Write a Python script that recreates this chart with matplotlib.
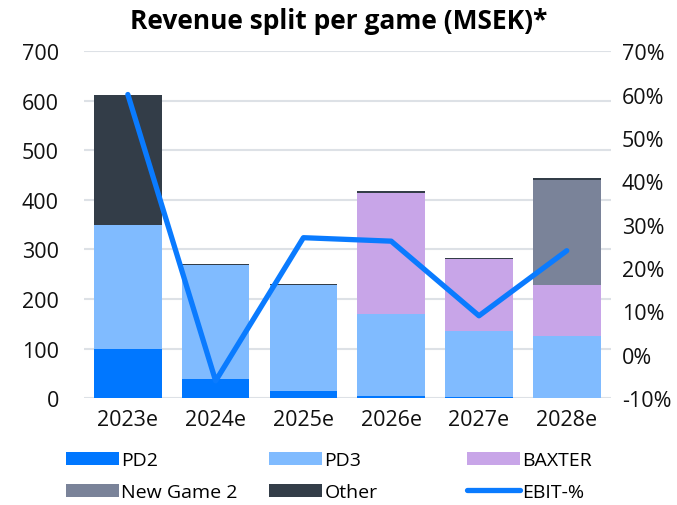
import matplotlib
matplotlib.use("Agg")
import matplotlib.pyplot as plt
import numpy as np

categories = ["2023e", "2024e", "2025e", "2026e", "2027e", "2028e"]
pd2 = [99, 38, 15, 4, 2, 0]
pd3 = [250, 230, 213, 166, 134, 125]
baxter = [0, 0, 0, 244, 144, 104]
new_game2 = [0, 0, 0, 0, 0, 212]
other = [263, 3, 3, 4, 3, 3]
ebit = [60, -6, 27, 26.2, 9, 24]

colors = {"PD2": "#0077FF", "PD3": "#80BBFF", "BAXTER": "#C8A5E8",
          "New Game 2": "#7A8399", "Other": "#333D48"}
line_color = "#0A7BFF"

plt.rcParams['font.family'] = ['Open Sans', 'DejaVu Sans']

fig = plt.figure(figsize=(6.77, 5.06), dpi=100)
ax = fig.add_axes([0.124, 0.211, 0.778, 0.686])
ax2 = ax.twinx()

x = np.arange(len(categories))
w = 0.77
bottom = np.zeros(len(categories))
handles = {}
for name, vals in [("PD2", pd2), ("PD3", pd3), ("BAXTER", baxter),
                   ("New Game 2", new_game2), ("Other", other)]:
    h = ax.bar(x, vals, w, bottom=bottom, color=colors[name], label=name, zorder=2)
    bottom += np.array(vals)
    handles[name] = h

ln, = ax2.plot(x, ebit, color=line_color, lw=3.8, label="EBIT-%", zorder=3,
               solid_capstyle='round')
handles["EBIT-%"] = ln

ax.set_ylim(0, 700)
ax.set_yticks(range(0, 701, 100))
ax2.set_ylim(-10, 70)
ax2.set_yticks(range(-10, 71, 10))
ax2.set_yticklabels([f"{v}%" for v in range(-10, 71, 10)])
ax.set_xlim(-0.5, 5.5)
ax.set_xticks(x)
ax.set_xticklabels(categories)

ax.grid(axis='y', color='#DDE1E6', lw=1.5, zorder=0)
ax.set_axisbelow(True)
for a in (ax, ax2):
    for s in a.spines.values():
        s.set_visible(False)
    a.tick_params(length=0, labelsize=15.5, colors='#111111')
ax.tick_params(axis='y', pad=18)
ax.tick_params(axis='x', pad=8)
ax2.tick_params(axis='y', pad=8)

fig.suptitle("Revenue split per game (MSEK)*", fontsize=19, fontweight='bold',
             x=0.5, y=0.985)

cols = [["PD2", "New Game 2"], ["PD3", "Other"], ["BAXTER", "EBIT-%"]]
xpos = [66, 269, 467]
for names, xp in zip(cols, xpos):
    fig.legend([handles[k] for k in names], names, loc='upper left',
               bbox_to_anchor=(xp / 677, 1 - 452 / 506), frameon=False,
               fontsize=14, handlelength=2.7, handleheight=0.65,
               handletextpad=0.15, labelspacing=0.72, borderpad=0,
               borderaxespad=0)

fig.savefig("out.png", dpi=100)
